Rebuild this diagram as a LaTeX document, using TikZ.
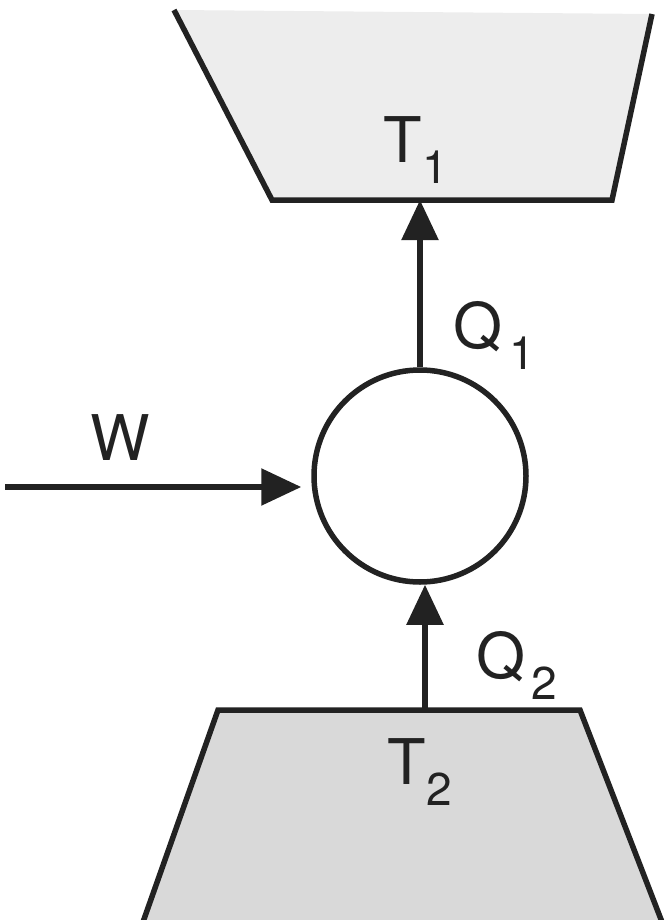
\documentclass[tikz,border=0pt]{standalone}
\usepackage{fontspec}
\setmainfont{TeX Gyre Heros}
\usetikzlibrary{arrows.meta}
\definecolor{ink}{HTML}{222222}
\newcommand{\lbl}[3][0pt]{#2\kern#1\raisebox{-21pt}{\fontsize{46}{50}\selectfont #3}}
\begin{document}
\begin{tikzpicture}[x=1pt,y=-1pt,
  line width=5.5pt, line join=miter,
  wall/.style={draw=ink, line width=5.5pt},
  flow/.style={draw=ink, line width=5.5pt, -{Triangle[length=40pt,width=36pt]}},
  lab/.style={text=ink, font=\fontsize{63}{70}\selectfont, inner sep=0pt}]
\useasboundingbox (0,0) rectangle (665,920);
% hot reservoir
\fill[black!7] (174,10) -- (272,200) -- (612,200) -- (652,14) -- cycle;
\draw[wall] (174,10) -- (272,200) -- (612,200) -- (652,14);
% cold reservoir
\fill[black!15] (218,710) -- (580,710) -- (662,920) -- (143,920) -- cycle;
\draw[wall] (143,922) -- (218,710) -- (580,710) -- (662,922);
\coordinate (t1bot) at (420,200);
\coordinate (t2top) at (425,710);
\coordinate (wstart) at (5,487);
% engine
\node[draw=ink, line width=5.5pt, circle, minimum size=212pt, inner sep=0pt] (eng) at (420,476) {};
% flows
\draw[flow] (eng.north) -- (t1bot);
\draw[flow] (t2top) -- (t2top |- eng.south);
\draw[flow, shorten >=10pt] (wstart) -- (eng.west |- wstart);
% labels
\node[lab] (T1) at (416,150) {\lbl{T}{1}};
\node[lab] (Q1) at (494,335) {\lbl[7pt]{Q}{1}};
\node[lab] (W) at (120,438) {W};
\node[lab] (Q2) at (517,665) {\lbl[6pt]{Q}{2}};
\node[lab] (T2) at (420,772) {\lbl{T}{2}};
\end{tikzpicture}
\end{document}
